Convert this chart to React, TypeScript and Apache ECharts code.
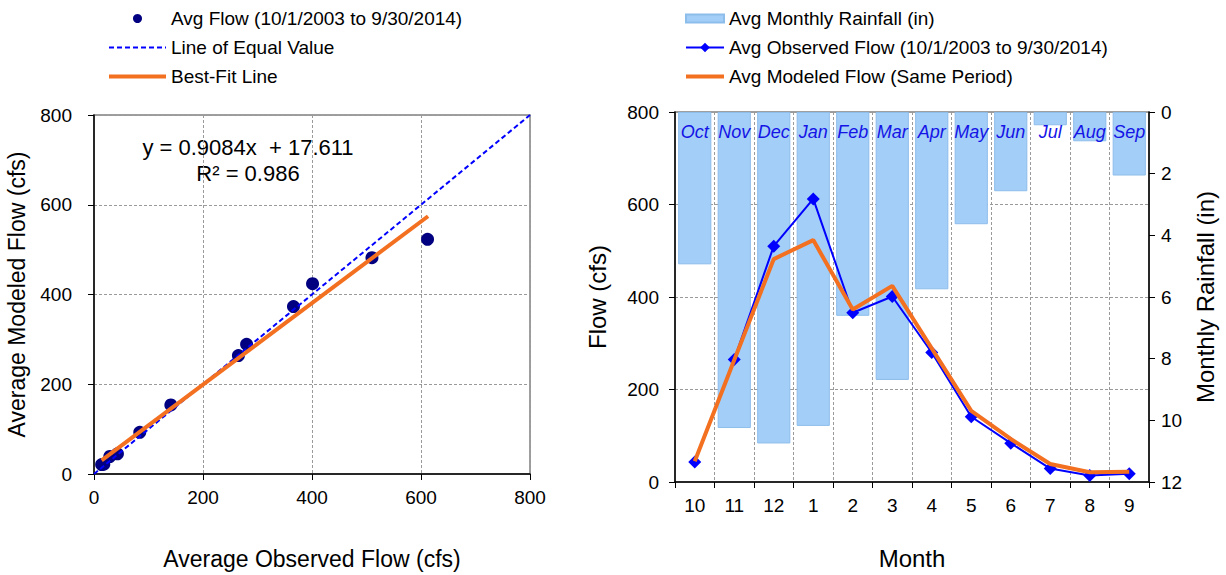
import React, { useEffect, useRef } from "react";
import * as echarts from "echarts";

const monthNums = ["10", "11", "12", "1", "2", "3", "4", "5", "6", "7", "8", "9"];
const monthNames = ["Oct", "Nov", "Dec", "Jan", "Feb", "Mar", "Apr", "May", "Jun", "Jul", "Aug", "Sep"];
const observedFlow = [43, 265, 510, 612, 366, 401, 280, 141, 84, 29, 14, 18];
const modeledFlow = [45, 264, 482, 523, 373, 424, 289, 154, 93, 39, 21, 22];
const rainfall = [4.94, 10.25, 10.75, 10.18, 6.61, 8.69, 5.75, 3.64, 2.57, 0.43, 0.95, 2.06];
const equalLine = [[0, 0], [800, 800]];
const bestFitLine = [[14, 30.3], [613, 574.4]];
const flowTicks = { min: 0, max: 800, interval: 200 };
const rainTicks = { min: 0, max: 12, interval: 2 };
const equationText = "y = 0.9084x  + 17.611";
const r2Text = "R² = 0.986";

const FONT = "'Liberation Sans', Arial, sans-serif";
const ORANGE = "#F37021";
const BLUE = "#0000FF";
const NAVY = "#000080";

export default function App() {
  const ref = useRef<HTMLDivElement>(null);
  useEffect(() => {
    if (!ref.current) return;
    const chart = echarts.init(ref.current, undefined, { renderer: "svg" });
    const axisLine = { show: true, lineStyle: { color: "#000", width: 1.5 } };
    const splitLine = { show: true, lineStyle: { color: "#9a9a9a", type: [3, 2] as any, width: 1 } };
    const tickLabel = { color: "#000", fontSize: 19, fontFamily: FONT };
    const titleStyle = { color: "#000", fontSize: 23, fontFamily: FONT };
    const noSymbol = { color: "transparent", borderWidth: 0, opacity: 0 };

    const option: any = {
      animation: false,
      backgroundColor: "#fff",
      textStyle: { fontFamily: FONT },
      legend: [
        {
          left: 102,
          top: 4,
          orient: "vertical",
          itemWidth: 57,
          itemHeight: 9,
          itemGap: 10,
          selectedMode: false,
          textStyle: { color: "#000", fontSize: 19, fontFamily: FONT },
          data: [
            { name: "Avg Flow (10/1/2003 to 9/30/2014)" },
            { name: "Line of Equal Value", itemStyle: noSymbol },
            { name: "Best-Fit Line", itemStyle: noSymbol, lineStyle: { width: 4 } },
          ],
        },
        {
          left: 679,
          top: 4,
          orient: "vertical",
          itemWidth: 38,
          itemHeight: 12,
          itemGap: 10,
          selectedMode: false,
          textStyle: { color: "#000", fontSize: 19, fontFamily: FONT },
          data: [
            { name: "Avg Monthly Rainfall (in)", icon: "path://M0,2 L38,2 L38,10 L0,10 Z" },
            { name: "Avg Observed Flow (10/1/2003 to 9/30/2014)" },
            { name: "Avg Modeled Flow (Same Period)", itemStyle: noSymbol, lineStyle: { width: 4 } },
          ],
        },
      ],
      grid: [
        { left: 94, top: 115, width: 436, height: 373, show: true, borderColor: "#808080", borderWidth: 1.5, backgroundColor: "transparent" },
        { left: 675, top: 112, width: 474, height: 374, show: true, borderColor: "#808080", borderWidth: 1.5, backgroundColor: "transparent" },
      ],
      xAxis: [
        {
          gridIndex: 0,
          type: "value",
          ...flowTicks,
          axisLine,
          axisTick: { show: true, inside: false, length: 6, lineStyle: { color: "#000" } },
          axisLabel: { ...tickLabel, margin: 14 },
          splitLine,
          name: "Average Observed Flow (cfs)",
          nameLocation: "middle",
          nameGap: 73,
          nameTextStyle: titleStyle,
        },
        {
          gridIndex: 1,
          type: "category",
          data: monthNums,
          position: "bottom",
          axisLine,
          axisTick: { show: true, inside: false, length: 6, lineStyle: { color: "#000" } },
          axisLabel: { ...tickLabel, margin: 14, interval: 0 },
          splitLine: { ...splitLine, interval: 0 },
          name: "Month",
          nameLocation: "middle",
          nameGap: 64,
          nameTextStyle: { ...titleStyle, fontSize: 24 },
        },
        {
          gridIndex: 1,
          type: "category",
          data: monthNames,
          position: "top",
          z: 20,
          axisLine: { show: false },
          axisTick: { show: false },
          splitLine: { show: false },
          axisLabel: { inside: true, interval: 0, margin: 11, color: "#1414E6", fontSize: 18, fontStyle: "italic", fontFamily: FONT },
        },
      ],
      yAxis: [
        {
          gridIndex: 0,
          type: "value",
          ...flowTicks,
          axisLine,
          axisTick: { show: true, inside: false, length: 6, lineStyle: { color: "#000" } },
          axisLabel: { ...tickLabel, margin: 22 },
          splitLine,
          name: "Average Modeled Flow (cfs)",
          nameLocation: "middle",
          nameGap: 66,
          nameRotate: 90,
          nameTextStyle: titleStyle,
        },
        {
          gridIndex: 1,
          type: "value",
          position: "left",
          ...flowTicks,
          axisLine,
          axisTick: { show: true, inside: false, length: 6, lineStyle: { color: "#000" } },
          axisLabel: { ...tickLabel, margin: 16 },
          splitLine,
          name: "Flow (cfs)",
          nameLocation: "middle",
          nameGap: 66,
          nameRotate: 90,
          nameTextStyle: { ...titleStyle, fontSize: 24 },
        },
        {
          gridIndex: 1,
          type: "value",
          position: "right",
          inverse: true,
          ...rainTicks,
          axisLine,
          axisTick: { show: true, inside: false, length: 6, lineStyle: { color: "#000" } },
          axisLabel: { ...tickLabel, margin: 12 },
          splitLine: { show: false },
          name: "Monthly Rainfall (in)",
          nameLocation: "middle",
          nameGap: 44,
          nameRotate: 90,
          nameTextStyle: { ...titleStyle, fontSize: 24 },
        },
      ],
      series: [
        {
          name: "Avg Flow (10/1/2003 to 9/30/2014)",
          type: "scatter",
          xAxisIndex: 0,
          yAxisIndex: 0,
          symbol: "circle",
          symbolSize: 13,
          itemStyle: { color: NAVY, opacity: 1 },
          data: observedFlow.map((o, i) => [o, modeledFlow[i]]),
          z: 2,
        },
        {
          name: "Line of Equal Value",
          type: "line",
          xAxisIndex: 0,
          yAxisIndex: 0,
          symbol: "none",
          lineStyle: { color: BLUE, width: 2, type: [5, 3] },
          itemStyle: { color: BLUE },
          data: equalLine,
          z: 3,
        },
        {
          name: "Best-Fit Line",
          type: "line",
          xAxisIndex: 0,
          yAxisIndex: 0,
          symbol: "none",
          lineStyle: { color: ORANGE, width: 4 },
          itemStyle: { color: ORANGE },
          data: bestFitLine,
          z: 4,
        },
        {
          name: "Avg Monthly Rainfall (in)",
          type: "bar",
          xAxisIndex: 1,
          yAxisIndex: 2,
          barCategoryGap: "16%",
          itemStyle: { color: "#A3CEF7", borderColor: "#8DBDEB", borderWidth: 1 },
          data: rainfall,
          z: 1,
        },
        {
          name: "Avg Observed Flow (10/1/2003 to 9/30/2014)",
          type: "line",
          xAxisIndex: 1,
          yAxisIndex: 1,
          symbol: "diamond",
          symbolSize: 13,
          lineStyle: { color: BLUE, width: 2 },
          itemStyle: { color: BLUE },
          data: observedFlow,
          z: 3,
        },
        {
          name: "Avg Modeled Flow (Same Period)",
          type: "line",
          xAxisIndex: 1,
          yAxisIndex: 1,
          symbol: "none",
          lineStyle: { color: ORANGE, width: 4 },
          itemStyle: { color: ORANGE },
          data: modeledFlow,
          z: 4,
        },
      ],
      graphic: [
        {
          type: "text",
          x: 248,
          y: 147,
          style: { text: equationText, fill: "#000", font: `22px ${FONT}`, textAlign: "center", textVerticalAlign: "middle" },
        },
        {
          type: "text",
          x: 248,
          y: 173,
          style: { text: r2Text, fill: "#000", font: `22px ${FONT}`, textAlign: "center", textVerticalAlign: "middle" },
        },
      ],
    };
    chart.setOption(option);
    return () => chart.dispose();
  }, []);
  return <div ref={ref} style={{ position: "absolute", left: 0, top: 0, width: 1226, height: 575 }} />;
}
